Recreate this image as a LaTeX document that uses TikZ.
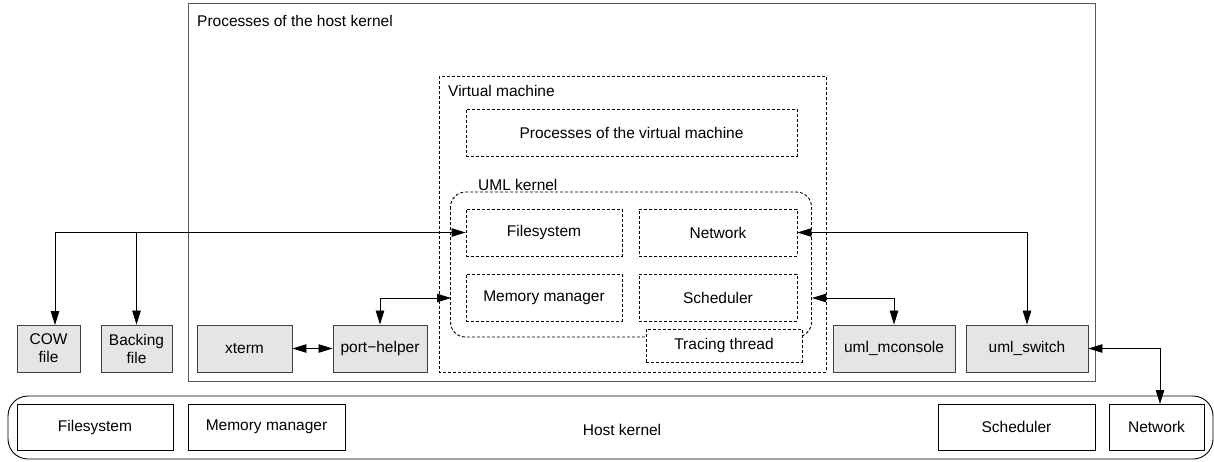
\documentclass[tikz,border=0pt]{standalone}
\usepackage{fontspec}
\setmainfont{Liberation Sans}
\usetikzlibrary{arrows.meta,calc}
\begin{document}
\begin{tikzpicture}[x=1pt,y=-1pt,
  every node/.style={font=\fontsize{15.5}{18}\selectfont, inner sep=0pt},
  dbox/.style={draw, dash pattern=on 3pt off 2pt, line width=0.8pt, fill=white},
  gbox/.style={draw=black!75, fill=black!10, line width=0.9pt, align=center, minimum height=47pt},
  hbox/.style={draw, line width=0.9pt, fill=white, minimum height=46pt},
  conn/.style={line width=0.8pt, {Triangle[length=14pt,width=8.5pt]}-{Triangle[length=14pt,width=8.5pt]}},
  conn1/.style={line width=0.8pt, -{Triangle[length=14pt,width=8.5pt]}}]
\useasboundingbox (0,0) rectangle (1214,461);
% host processes box
\draw[black!65, line width=1pt] (188,3) rectangle (1095,381);
\node[anchor=west] (hostproc) at (197,21) {Processes of the host kernel};
% virtual machine
\draw[dash pattern=on 3pt off 2pt, line width=0.8pt] (439,76) rectangle (826,372);
\node[anchor=west] (vmlabel) at (448,91) {Virtual machine};
\node[dbox, minimum width=331pt, minimum height=47pt] (vmproc) at (631.5,132.5) {Processes of the virtual machine};
% UML kernel
\draw[dash pattern=on 3pt off 2pt, line width=0.9pt, rounded corners=15pt] (450.5,192) rectangle (811.5,337);
\coordinate (umlW) at (451,0);
\coordinate (umlE) at (812,0);
\node[anchor=west] (umllabel) at (478,185) {UML kernel};
\node[dbox, minimum width=156pt, minimum height=47pt] (fs) at (544,232.5) {Filesystem};
\node[dbox, minimum width=158pt, minimum height=47pt] (net) at (718,232.5) {Network};
\node[dbox, minimum width=156pt, minimum height=47pt] (mm) at (544,297.5) {Memory manager};
\node[dbox, minimum width=158pt, minimum height=47pt] (sched) at (718,297.5) {Scheduler};
\node[dbox, minimum width=156pt, minimum height=33pt] (trace) at (724,345.5) {Tracing thread};
% gray boxes
\node[gbox, minimum width=63pt] (cow) at (48.5,348.5) {COW\\file};
\node[gbox, minimum width=71pt] (back) at (136.5,348.5) {Backing\\file};
\node[gbox, minimum width=95pt] (xterm) at (244.5,348.5) {xterm};
\node[gbox, minimum width=94pt] (port) at (380,348.5) {port−helper};
\node[gbox, minimum width=122pt] (mcons) at (894,348.5) {uml\_mconsole};
\node[gbox, minimum width=122pt] (switch) at (1027,348.5) {uml\_switch};
% host kernel
\draw[line width=0.9pt, rounded corners=20pt] (8,396) rectangle (1213,459);
\node (hk) at (622,430) {Host kernel};
\node[hbox, minimum width=156pt] (hfs) at (95,427) {Filesystem};
\node[hbox, minimum width=157pt] (hmm) at (266.5,427) {Memory manager};
\node[hbox, minimum width=157pt] (hsched) at (1016.5,427) {Scheduler};
\node[hbox, minimum width=95pt] (hnet) at (1156.5,427) {Network};
% connectors
\coordinate (cowtop) at (55,325);
\draw[conn] (cowtop) |- (fs.west);
\draw[conn1] (back.north |- fs.west) -- (back.north);
\draw[conn] (xterm.east) -- (port.east -| port.west);
\draw[conn] (port.north) |- (umlW |- 0,298);
\draw[conn] (switch.north) |- (net.east);
\draw[conn] (mcons.north) |- (umlE |- 0,298);
\coordinate (hnettop) at (1160,404);
\draw[conn] (switch.east) -| (hnettop);
\end{tikzpicture}
\end{document}
